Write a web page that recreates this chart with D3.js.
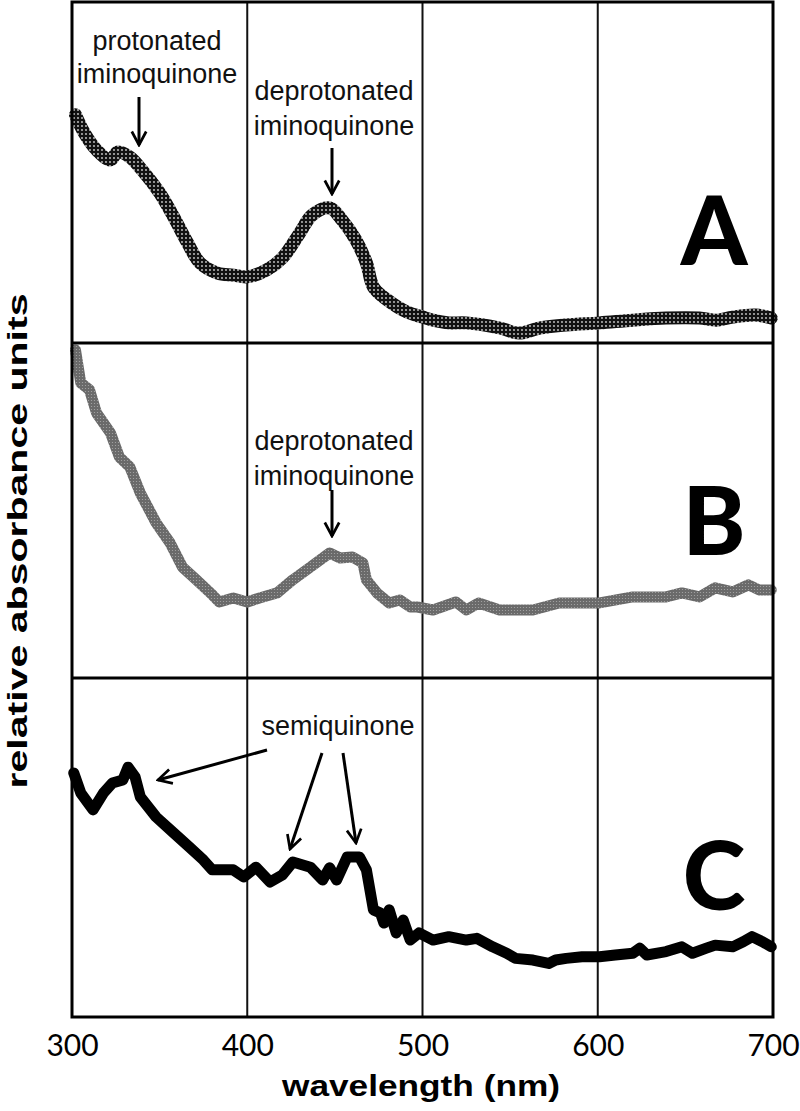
<!DOCTYPE html>
<html>
<head>
<meta charset="utf-8">
<script src="https://cdn.jsdelivr.net/npm/d3@7/dist/d3.min.js"></script>
<style>
  html, body { margin: 0; padding: 0; background: #fff; }
  svg { display: block; }
</style>
</head>
<body>
<div id="chart"></div>
<script>
// ---------- DATA ----------
const tickValues = [300, 400, 500, 600, 700];
const tickLabels = ["300", "400", "500", "600", "700"];
const panelLetters = ["A", "B", "C"];

// Panel A – relative absorbance (0 = panel bottom, 1 = panel top)
const wavelengthA = [302, 307, 314, 322, 326, 333, 340, 350, 358, 366, 373, 383, 392, 400, 411, 420, 430, 437, 447, 454, 462, 468, 472, 480, 491, 500, 506, 515, 525, 544, 555, 567, 582, 601, 620, 639, 658, 668, 677, 690, 699];
const absorbA    = [0.669, 0.616, 0.566, 0.537, 0.560, 0.545, 0.507, 0.440, 0.370, 0.293, 0.235, 0.205, 0.199, 0.194, 0.214, 0.249, 0.323, 0.375, 0.396, 0.361, 0.302, 0.235, 0.164, 0.126, 0.091, 0.076, 0.067, 0.059, 0.059, 0.044, 0.029, 0.044, 0.053, 0.059, 0.067, 0.073, 0.073, 0.067, 0.076, 0.082, 0.073];

// Panel B
const wavelengthB = [302, 305, 310, 314, 322, 327, 333, 339, 348, 356, 363, 371, 379, 384, 392, 400, 407, 417, 426, 436, 447, 453, 460, 466, 468, 474, 481, 487, 493, 497, 506, 519, 525, 532, 544, 563, 578, 591, 601, 620, 639, 648, 658, 667, 677, 686, 692, 699];
const absorbB    = [0.979, 0.881, 0.860, 0.791, 0.731, 0.660, 0.630, 0.552, 0.463, 0.403, 0.331, 0.293, 0.254, 0.227, 0.239, 0.227, 0.239, 0.254, 0.293, 0.331, 0.373, 0.358, 0.361, 0.343, 0.293, 0.254, 0.224, 0.233, 0.212, 0.212, 0.203, 0.227, 0.203, 0.224, 0.203, 0.203, 0.224, 0.224, 0.224, 0.242, 0.242, 0.254, 0.242, 0.269, 0.257, 0.278, 0.263, 0.263];

// Panel C
const wavelengthC = [301, 305, 312, 318, 323, 329, 332, 336, 339, 348, 358, 367, 375, 380, 392, 398, 405, 413, 420, 426, 436, 443, 447, 451, 457, 464, 468, 472, 476, 478, 481, 485, 489, 493, 498, 506, 515, 525, 531, 540, 548, 553, 563, 572, 576, 582, 591, 601, 610, 620, 624, 628, 639, 648, 654, 662, 667, 677, 683, 688, 694, 699];
const absorbC    = [0.720, 0.661, 0.611, 0.661, 0.690, 0.699, 0.737, 0.708, 0.649, 0.590, 0.543, 0.501, 0.463, 0.434, 0.434, 0.413, 0.442, 0.398, 0.419, 0.457, 0.442, 0.404, 0.440, 0.404, 0.472, 0.472, 0.434, 0.316, 0.307, 0.277, 0.316, 0.248, 0.286, 0.227, 0.248, 0.227, 0.237, 0.227, 0.232, 0.207, 0.188, 0.173, 0.168, 0.158, 0.168, 0.173, 0.178, 0.178, 0.183, 0.188, 0.203, 0.183, 0.193, 0.207, 0.188, 0.203, 0.212, 0.207, 0.222, 0.237, 0.222, 0.207];

// ---------- LAYOUT ----------
const W = 800, H = 1111;
const xLeft = 72, xRight = 773;
const panelBounds = [[2, 343], [343, 678], [678, 1017]];

const svg = d3.select("#chart").append("svg")
  .attr("width", W).attr("height", H)
  .attr("viewBox", `0 0 ${W} ${H}`);

const defs = svg.append("defs");
function dotPattern(id, bg, dot, size, r) {
  const p = defs.append("pattern").attr("id", id)
    .attr("patternUnits", "userSpaceOnUse")
    .attr("width", size).attr("height", size);
  p.append("rect").attr("width", size).attr("height", size).attr("fill", bg);
  p.append("circle").attr("cx", size / 2).attr("cy", size / 2).attr("r", r).attr("fill", dot);
}
dotPattern("patA", "#111", "#d0d0d0", 4, 0.9);
dotPattern("patB", "#6a6a6a", "#a8a8a8", 3, 0.6);

defs.append("marker").attr("id", "arrow")
  .attr("viewBox", "0 0 20 20").attr("refX", 18).attr("refY", 10)
  .attr("markerWidth", 18).attr("markerHeight", 18)
  .attr("markerUnits", "userSpaceOnUse")
  .attr("orient", "auto")
  .append("path").attr("d", "M3,2 L18,10 L3,18")
  .attr("fill", "none").attr("stroke", "#000").attr("stroke-width", 3)
  .attr("stroke-linejoin", "miter");

const x = d3.scaleLinear().domain([300, 700]).range([xLeft, xRight]);
const yScales = panelBounds.map(([t, b]) => d3.scaleLinear().domain([0, 1]).range([b, t]));

// gridlines
svg.append("g").selectAll("line").data(tickValues.slice(1, -1)).join("line")
  .attr("x1", d => x(d)).attr("x2", d => x(d))
  .attr("y1", panelBounds[0][0]).attr("y2", panelBounds[2][1])
  .attr("stroke", "#111").attr("stroke-width", 2);

// series
const series = [
  { wl: wavelengthA, ab: absorbA, stroke: "url(#patA)", width: 13, curve: d3.curveCatmullRom },
  { wl: wavelengthB, ab: absorbB, stroke: "url(#patB)", width: 11, curve: d3.curveLinear },
  { wl: wavelengthC, ab: absorbC, stroke: "#000", width: 11, curve: d3.curveLinear }
];
series.forEach((s, i) => {
  const pts = s.wl.map((w, k) => [w, s.ab[k]]);
  const line = d3.line().x(d => x(d[0])).y(d => yScales[i](d[1])).curve(s.curve);
  svg.append("path").datum(pts)
    .attr("d", line)
    .attr("fill", "none")
    .attr("stroke", s.stroke)
    .attr("stroke-width", s.width)
    .attr("stroke-linejoin", "round")
    .attr("stroke-linecap", "round");
});

// panel frames
const frame = svg.append("g").attr("fill", "none").attr("stroke", "#000");
frame.append("rect").attr("x", xLeft).attr("y", panelBounds[0][0])
  .attr("width", xRight - xLeft).attr("height", panelBounds[2][1] - panelBounds[0][0])
  .attr("stroke-width", 3);
[panelBounds[0][1], panelBounds[1][1]].forEach(yy => {
  frame.append("line").attr("x1", xLeft).attr("x2", xRight).attr("y1", yy).attr("y2", yy).attr("stroke-width", 3);
});

// panel letters
const letterX = 714;
const letterBase = [265, 555, 910];
panelLetters.forEach((L, i) => {
  svg.append("text").attr("x", letterX).attr("y", letterBase[i])
    .attr("text-anchor", "middle")
    .attr("font-family", "Lato, 'Open Sans', sans-serif")
    .attr("font-weight", 900)
    .attr("font-size", 95)
    .text(L);
});

// x axis
const axis = d3.axisBottom(x).tickValues(tickValues)
  .tickFormat((d, i) => tickLabels[i]).tickSize(0).tickPadding(10);
const gAxis = svg.append("g").attr("transform", `translate(0,${panelBounds[2][1]})`).call(axis);
gAxis.select(".domain").remove();
gAxis.selectAll("text")
  .attr("font-family", "Lato, sans-serif")
  .attr("font-size", 30)
  .attr("fill", "#000")
  .attr("dy", "0.95em");

// axis titles
svg.append("text").attr("x", 421).attr("y", 1096)
  .attr("text-anchor", "middle")
  .attr("font-family", "'Liberation Sans', Arial, sans-serif")
  .attr("font-weight", 700).attr("font-size", 30)
  .attr("textLength", 278).attr("lengthAdjust", "spacingAndGlyphs")
  .text("wavelength (nm)");

svg.append("text")
  .attr("transform", "translate(27,541) rotate(-90)")
  .attr("text-anchor", "middle")
  .attr("font-family", "'Liberation Sans', Arial, sans-serif")
  .attr("font-weight", 700).attr("font-size", 28)
  .attr("textLength", 495).attr("lengthAdjust", "spacingAndGlyphs")
  .text("relative absorbance units");

// annotations
const annFont = "'Liberation Sans', Arial, sans-serif";
const annSize = 27;
const labels = [
  { x: 157, y: 50, t: "protonated" }, { x: 157, y: 83, t: "iminoquinone" },
  { x: 334, y: 100, t: "deprotonated" }, { x: 334, y: 135, t: "iminoquinone" },
  { x: 334, y: 450, t: "deprotonated" }, { x: 334, y: 485, t: "iminoquinone" },
  { x: 338, y: 735, t: "semiquinone" }
];
svg.append("g").selectAll("text").data(labels).join("text")
  .attr("x", d => d.x).attr("y", d => d.y)
  .attr("text-anchor", "middle")
  .attr("font-family", annFont).attr("font-size", annSize)
  .attr("fill", "#111")
  .text(d => d.t);

const arrows = [
  [139, 97, 139, 145],
  [332, 148, 332, 194],
  [332, 490, 332, 536],
  [267, 750, 158, 780],
  [322, 753, 290, 849],
  [343, 753, 356, 843]
];
svg.append("g").selectAll("line").data(arrows).join("line")
  .attr("x1", d => d[0]).attr("y1", d => d[1])
  .attr("x2", d => d[2]).attr("y2", d => d[3])
  .attr("stroke", "#000").attr("stroke-width", 3)
  .attr("marker-end", "url(#arrow)");
</script>
</body>
</html>
